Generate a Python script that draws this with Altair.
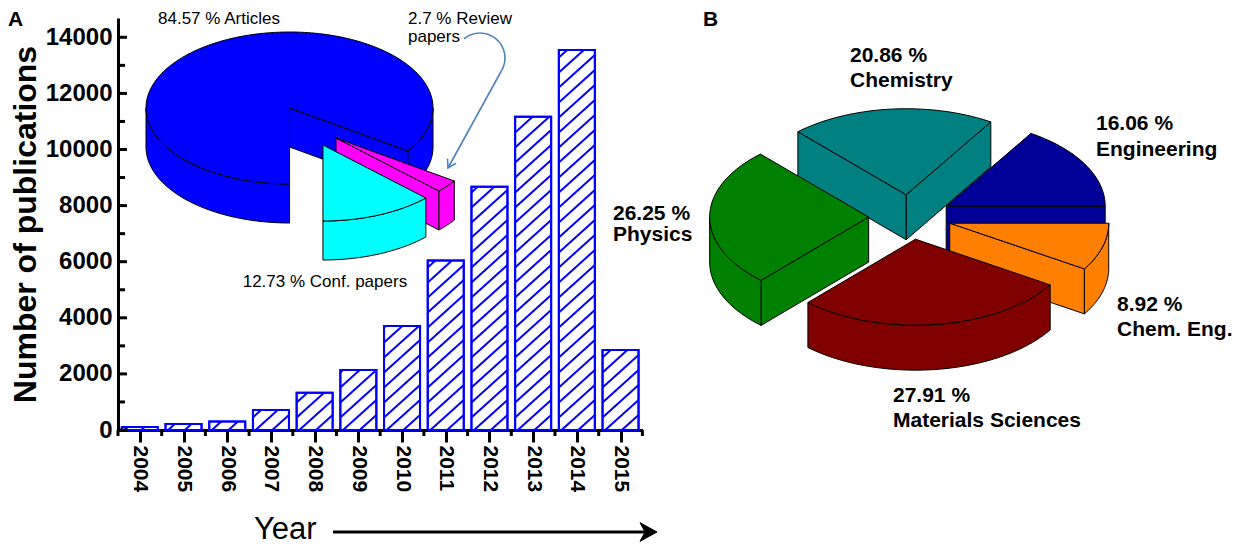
import math
import pandas as pd
import altair as alt

FONT = "Liberation Sans"

# ---------------- data ----------------
years = [2004, 2005, 2006, 2007, 2008, 2009, 2010, 2011, 2012, 2013, 2014, 2015]
publications = [110, 210, 300, 710, 1330, 2140, 3710, 6040, 8670, 11170, 13550, 2850]
y_major_ticks = [0, 2000, 4000, 6000, 8000, 10000, 12000, 14000]
y_minor_ticks = [1000, 3000, 5000, 7000, 9000, 11000, 13000]

doc_types = ["Conf. papers", "Review papers", "Articles"]
doc_share = [12.73, 2.7, 84.57]

areas = ["Engineering", "Chemistry", "Physics", "Materials Sciences", "Chem. Eng."]
area_share = [16.06, 20.86, 26.25, 27.91, 8.92]

# ---------------- layout / style ----------------
W, H = 1114, 412
X_RANGE = 524.4
Y_MAX = 14688
BLUE = "#0000FF"

doc_colors = {"Articles": "#0000FF", "Review papers": "#FF00FF", "Conf. papers": "#00FFFF"}
area_colors = {"Engineering": "#000099", "Chemistry": "#008080", "Physics": "#008000",
               "Materials Sciences": "#800000", "Chem. Eng.": "#FF8000"}

PA = dict(cx=171.5, cy=90, rx=143.5, ry=76, depth=39, start=270)
PA_offsets = {"Conf. papers": (0.233, -0.487), "Review papers": (0.324, -0.395), "Articles": (0.0, 0.0)}
PB = dict(cx=792, cy=199, rx=159, ry=86, depth=45, start=0, explode=0.26)


def pie_scales(p):
    sx = alt.Scale(domain=[-p["cx"] / p["rx"], (W - p["cx"]) / p["rx"]], nice=False, zero=False)
    sy = alt.Scale(domain=[(p["cy"] - H) / p["ry"], p["cy"] / p["ry"]], nice=False, zero=False)
    return sx, sy


def slice_polys(cx, cy, a0, a1, d):
    r = math.radians

    def P(phi, dy=0.0):
        return (cx + math.cos(r(phi)), cy + math.sin(r(phi)) - dy)

    n = max(10, int((a1 - a0) / 1.5) + 2)
    polys = []
    if math.cos(r(a0)) > 1e-6:
        p0 = P(a0)
        polys.append([(cx, cy), p0, (p0[0], p0[1] - d), (cx, cy - d), (cx, cy)])
    if math.cos(r(a1)) < -1e-6:
        p1 = P(a1)
        polys.append([(cx, cy), p1, (p1[0], p1[1] - d), (cx, cy - d), (cx, cy)])
    for k in range(-1, 3):
        lo, hi = 180 + 360 * k, 360 + 360 * k
        s, e = max(a0, lo), min(a1, hi)
        if e - s > 0.05:
            m = max(6, int((e - s) / 1.5) + 2)
            angs = [s + (e - s) * j / (m - 1) for j in range(m)]
            top = [P(a) for a in angs]
            bot = [P(a, d) for a in reversed(angs)]
            polys.append(top + bot + [top[0]])
    angs = [a0 + (a1 - a0) * j / (n - 1) for j in range(n)]
    polys.append([(cx, cy)] + [P(a) for a in angs] + [(cx, cy)])
    return polys


def poly_layer(pts, color, sx, sy):
    df = pd.DataFrame({"x": [p[0] for p in pts], "y": [p[1] for p in pts], "i": list(range(len(pts)))})
    return alt.Chart(df).mark_line(fill=color, stroke="black", strokeWidth=1, strokeJoin="round").encode(
        x=alt.X("x:Q", scale=sx, axis=None),
        y=alt.Y("y:Q", scale=sy, axis=None),
        order=alt.Order("i:Q"),
    )


def build_pie(names, shares, p, colors, offsets=None):
    sx, sy = pie_scales(p)
    d = p["depth"] / p["ry"]
    slices = []
    a = p["start"]
    for nm, sh in zip(names, shares):
        span = sh / 100.0 * 360.0
        a0, a1 = a, a + span
        mid = math.radians((a0 + a1) / 2)
        if offsets is not None:
            ox, oy = offsets[nm]
        else:
            ox, oy = p["explode"] * math.cos(mid), p["explode"] * math.sin(mid)
        slices.append((oy, nm, a0, a1, ox))
        a = a1
    slices.sort(key=lambda t: -t[0])
    layers = []
    for oy, nm, a0, a1, ox in slices:
        for poly in slice_polys(ox, oy, a0, a1, d):
            layers.append(poly_layer(poly, colors[nm], sx, sy))
    return layers


# ---------------- bar chart ----------------
bars_df = pd.DataFrame({"year": years, "value": publications})
sx_bar = alt.Scale(domain=[2003.5, 2015.5], range=[0, X_RANGE], nice=False, zero=False)
sy_bar = alt.Scale(domain=[0, Y_MAX], nice=False, zero=False)
HALF = 0.412
BW = 2 * HALF
px_per_year = X_RANGE / 12
counts_per_px = Y_MAX / H
K = 0.9 * px_per_year * counts_per_px
S = 15 * counts_per_px

x_axis = alt.Axis(values=years, format="d", labelAngle=90, labelFont=FONT, labelFontSize=21,
                  labelFontWeight="bold", labelColor="black", labelPadding=3, tickSize=12,
                  tickWidth=3, tickColor="black", domainWidth=3, domainColor="black", grid=False,
                  title=None, labelFlush=False, labelOverlap=False, orient="bottom")
y_axis = alt.Axis(values=y_major_ticks, format="d", labelFont=FONT, labelFontSize=24,
                  labelFontWeight="bold", labelColor="black", labelPadding=6, ticks=False,
                  domainWidth=3, domainColor="black", grid=False, title="Number of publications",
                  titleFont=FONT, titleFontSize=32, titleFontWeight="bold", titleColor="black",
                  titlePadding=3, labelFlush=False, orient="left")

base = alt.Chart(bars_df).transform_calculate(
    x0=f"datum.year - {HALF}", x1=f"datum.year + {HALF}", zero="0")

bar_fill = base.mark_rect(fill="white", stroke=BLUE, strokeWidth=2).encode(
    x=alt.X("x0:Q", scale=sx_bar, axis=x_axis), x2="x1:Q",
    y=alt.Y("value:Q", scale=sy_bar, axis=y_axis), y2="zero:Q")

hatch = alt.Chart(bars_df).transform_calculate(
    x0=f"datum.year - {HALF}", idx="sequence(0, 60)"
).transform_flatten(["idx"]).transform_calculate(
    c=f"-{K}*{BW} + datum.idx*{S}"
).transform_calculate(
    xs=f"max(datum.x0, datum.x0 - datum.c/{K})",
    xe=f"min(datum.x0 + {BW}, datum.x0 + (datum.value - datum.c)/{K})",
).transform_filter("datum.xs < datum.xe").transform_calculate(
    ys=f"datum.c + {K}*(datum.xs - datum.x0)",
    ye=f"datum.c + {K}*(datum.xe - datum.x0)",
).mark_rule(stroke=BLUE, strokeWidth=2).encode(
    x=alt.X("xs:Q", scale=sx_bar, axis=None), x2="xe:Q",
    y=alt.Y("ys:Q", scale=sy_bar, axis=None), y2="ye:Q")

bar_outline = base.mark_rect(fillOpacity=0, stroke=BLUE, strokeWidth=2).encode(
    x=alt.X("x0:Q", scale=sx_bar, axis=None), x2="x1:Q",
    y=alt.Y("value:Q", scale=sy_bar, axis=None), y2="zero:Q")

ymaj = alt.Chart(pd.DataFrame({"v": y_major_ticks})).mark_rule(stroke="black", strokeWidth=3).encode(
    y=alt.Y("v:Q", scale=sy_bar, axis=None), x=alt.value(0), x2=alt.value(9))
ymin = alt.Chart(pd.DataFrame({"v": y_minor_ticks})).mark_rule(stroke="black", strokeWidth=3).encode(
    y=alt.Y("v:Q", scale=sy_bar, axis=None), x=alt.value(0), x2=alt.value(7))
xmin = alt.Chart(pd.DataFrame({"year": years + [years[-1] + 1]})).transform_calculate(
    b="datum.year - 0.5").mark_rule(stroke="black", strokeWidth=3).encode(
    x=alt.X("b:Q", scale=sx_bar, axis=None), y=alt.value(H), y2=alt.value(H + 6))

bar_layers = [bar_fill, hatch, bar_outline, ymaj, ymin, xmin]

# ---------------- pies ----------------
pieA = build_pie(doc_types, doc_share, PA, doc_colors, offsets=PA_offsets)
pieB = build_pie(areas, area_share, PB, area_colors)


# ---------------- annotations ----------------
def txt(s, x, y, size, weight="normal", align="left", baseline="alphabetic", color="black"):
    return alt.Chart(pd.DataFrame({"t": [s]})).mark_text(
        font=FONT, fontSize=size, fontWeight=weight, align=align, baseline=baseline, color=color
    ).encode(text="t:N", x=alt.value(x), y=alt.value(y))


def pct(v):
    return f"{v} %"


share_a = dict(zip(doc_types, doc_share))
share_b = dict(zip(areas, area_share))

annots = [
    txt("A", -110, 8, 21, "bold"),
    txt("B", 585, 8, 21, "bold"),
    txt(f"{pct(share_a['Articles'])} Articles", 40, 6, 17),
    txt(f"{pct(share_a['Review papers'])} Review", 290, 6, 17),
    txt("papers", 290, 24, 17),
    txt(f"{pct(share_a['Conf. papers'])} Conf. papers", 124.7, 269, 17),
    txt(pct(share_b["Chemistry"]), 732, 43.5, 21, "bold"),
    txt("Chemistry", 732, 69, 21, "bold"),
    txt(pct(share_b["Engineering"]), 978, 112, 21, "bold"),
    txt("Engineering", 978, 137.5, 21, "bold"),
    txt(pct(share_b["Physics"]), 495, 202, 21, "bold"),
    txt("Physics", 495, 223, 21, "bold"),
    txt(pct(share_b["Chem. Eng."]), 999, 292.8, 21, "bold"),
    txt("Chem. Eng.", 999, 317.5, 21, "bold"),
    txt(pct(share_b["Materials Sciences"]), 775, 383.5, 21, "bold"),
    txt("Materials Sciences", 775, 409, 21, "bold"),
    txt("Year", 136, 521, 31),
]

ARROW_BLUE = "#4F81BD"
one = pd.DataFrame({"k": [0]})
review_arc = alt.Chart(one).mark_arc(fillOpacity=0, stroke=ARROW_BLUE, strokeWidth=1.6).encode(
    x=alt.value(362), y=alt.value(40), radius=alt.value(25), radius2=alt.value(25),
    theta=alt.value(5.585), theta2=alt.value(8.378))
review_line = alt.Chart(one).mark_rule(stroke=ARROW_BLUE, strokeWidth=1.6).encode(
    x=alt.value(383.6), y=alt.value(52.5), x2=alt.value(330), y2=alt.value(150))
review_head = alt.Chart(one).mark_point(
    shape="M-0.6,-1L0,0L0.6,-1", filled=False, stroke=ARROW_BLUE, strokeWidth=1.6, size=256,
    angle=28, opacity=1).encode(x=alt.value(330), y=alt.value(150))

year_line = alt.Chart(one).mark_rule(stroke="black", strokeWidth=3).encode(
    x=alt.value(215), x2=alt.value(530), y=alt.value(514))
year_head = alt.Chart(one).mark_point(
    shape="M-1,-0.55L0,0L-1,0.55L-0.7,0Z", filled=True, fill="black", stroke="black",
    strokeWidth=1, size=1156, opacity=1).encode(x=alt.value(539), y=alt.value(514))

chart = alt.layer(
    *bar_layers, *pieA, *pieB, *annots, review_arc, review_line, review_head, year_line, year_head
).resolve_scale(x="independent", y="independent").properties(
    width=W, height=H,
    padding={"left": 110, "top": 10, "right": 0, "bottom": 116},
    autosize=alt.AutoSizeParams(type="none"),
).configure_view(stroke=None)

chart.save("out.html", embed_options={"renderer": "svg", "actions": False})
